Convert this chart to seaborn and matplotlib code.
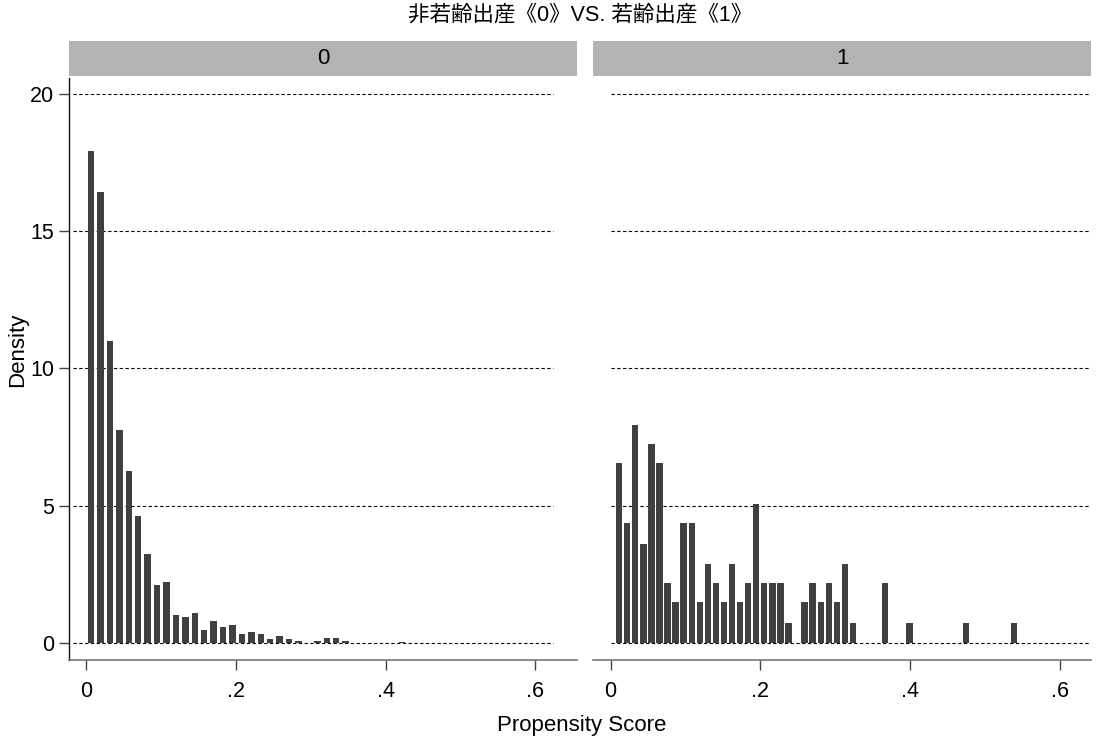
import matplotlib.pyplot as plt
import seaborn as sns
import numpy as np
import pandas as pd

# histogram of propensity score by group (Stata-style by() graph)
title = "非若齢出産《0》VS. 若齢出産《1》"
groups = ["0", "1"]

# group 0: 34 bins
left_start = 0.0
left_width = 0.0126
left_density = [17.92, 16.43, 11.01, 7.77, 6.28, 4.64, 3.23, 2.13, 2.22, 1.03,
                0.95, 1.11, 0.49, 0.80, 0.57, 0.64, 0.33, 0.39, 0.33, 0.16,
                0.25, 0.16, 0.07, 0.0, 0.07, 0.17, 0.17, 0.07, 0.0, 0.0,
                0.0, 0.0, 0.0, 0.05]

# group 1: 50 bins
right_start = 0.006
right_width = 0.01077
right_density = [6.57, 4.38, 7.94, 3.60, 7.24, 6.57, 2.19, 1.50, 4.38, 4.38,
                 1.50, 2.89, 2.19, 1.50, 2.89, 1.50, 2.19, 5.08, 2.19, 2.19,
                 2.19, 0.71, 0.0, 1.50, 2.19, 1.50, 2.19, 1.50, 2.89, 0.71,
                 0.0, 0.0, 0.0, 2.19, 0.0, 0.0, 0.71, 0.0, 0.0, 0.0,
                 0.0, 0.0, 0.0, 0.71, 0.0, 0.0, 0.0, 0.0, 0.0, 0.71]

x_ticks = [0, 0.2, 0.4, 0.6]
x_tick_labels = ["0", ".2", ".4", ".6"]
y_ticks = [0, 5, 10, 15, 20]

sns.set_style("white")
plt.rcParams['font.family'] = ['Liberation Sans', 'Noto Sans CJK JP', 'DejaVu Sans']
plt.rcParams['text.color'] = 'black'

W, H = 1102, 742
fig = plt.figure(figsize=(W / 100, H / 100), dpi=100)

def box(l, t, r, b):
    return [l / W, 1 - b / H, (r - l) / W, (b - t) / H]

panels = [
    dict(label=groups[0], start=left_start, width=left_width, dens=left_density,
         ax=(69, 78, 577, 660), strip=(69, 41, 577, 76), shrink=0.68,
         grid=(0.008, 0.953), xpad=(-0.0231, 0.6556)),
    dict(label=groups[1], start=right_start, width=right_width, dens=right_density,
         ax=(593, 78, 1091, 660), strip=(593, 41, 1091, 76), shrink=0.79,
         grid=(0.036, 0.998), xpad=(-0.0236, 0.6418)),
]

for i, p in enumerate(panels):
    n = len(p['dens'])
    edges = p['start'] + p['width'] * np.arange(n + 1)
    df = pd.DataFrame({'score': (edges[:-1] + edges[1:]) / 2, 'density': p['dens']})

    ax = fig.add_axes(box(*p['ax']))
    sns.histplot(data=df, x='score', weights='density', bins=list(edges), shrink=p['shrink'],
                 color='#404040', edgecolor='none', alpha=1, ax=ax, zorder=3)
    for y in y_ticks:
        ax.axhline(y, xmin=p['grid'][0], xmax=p['grid'][1], color='black',
                   linestyle=(0, (3, 2.2)), linewidth=0.8, zorder=1)
    ax.set_xlim(*p['xpad'])
    ax.set_ylim(-0.62, 20.58)
    ax.set_xlabel('')
    ax.set_ylabel('')
    ax.set_xticks(x_ticks)
    ax.set_xticklabels(x_tick_labels, fontsize=15.5)
    ax.tick_params(axis='x', bottom=True, length=7, width=1, color='#444444', pad=8,
                   labelcolor='black')
    for s in ['top', 'right']:
        ax.spines[s].set_visible(False)
    ax.spines['bottom'].set_color('#777777')
    ax.spines['bottom'].set_linewidth(1.2)
    if i == 0:
        ax.set_yticks(y_ticks)
        ax.set_yticklabels([str(v) for v in y_ticks], fontsize=15.5)
        ax.tick_params(axis='y', left=True, length=7, width=1, color='#444444', pad=3.5,
                       labelcolor='black')
        ax.spines['left'].set_color('#111111')
        ax.spines['left'].set_linewidth(1.0)
    else:
        ax.set_yticks([])
        ax.spines['left'].set_visible(False)

    sax = fig.add_axes(box(*p['strip']))
    sax.set_facecolor('#b3b3b3')
    sax.set_xticks([])
    sax.set_yticks([])
    for s in sax.spines.values():
        s.set_visible(False)
    sax.text(0.5, 0.5, p['label'], ha='center', va='center', fontsize=16,
             transform=sax.transAxes)

fig.text(580 / W, 1 - 15 / H, title, ha='center', va='center', fontsize=15.5)
fig.text(582 / W, 1 - 726 / H, 'Propensity Score', ha='center', va='center', fontsize=16)
fig.text(18 / W, 1 - 350 / H, 'Density', ha='center', va='center', fontsize=16, rotation=90)

fig.savefig('out.png', dpi=100)
